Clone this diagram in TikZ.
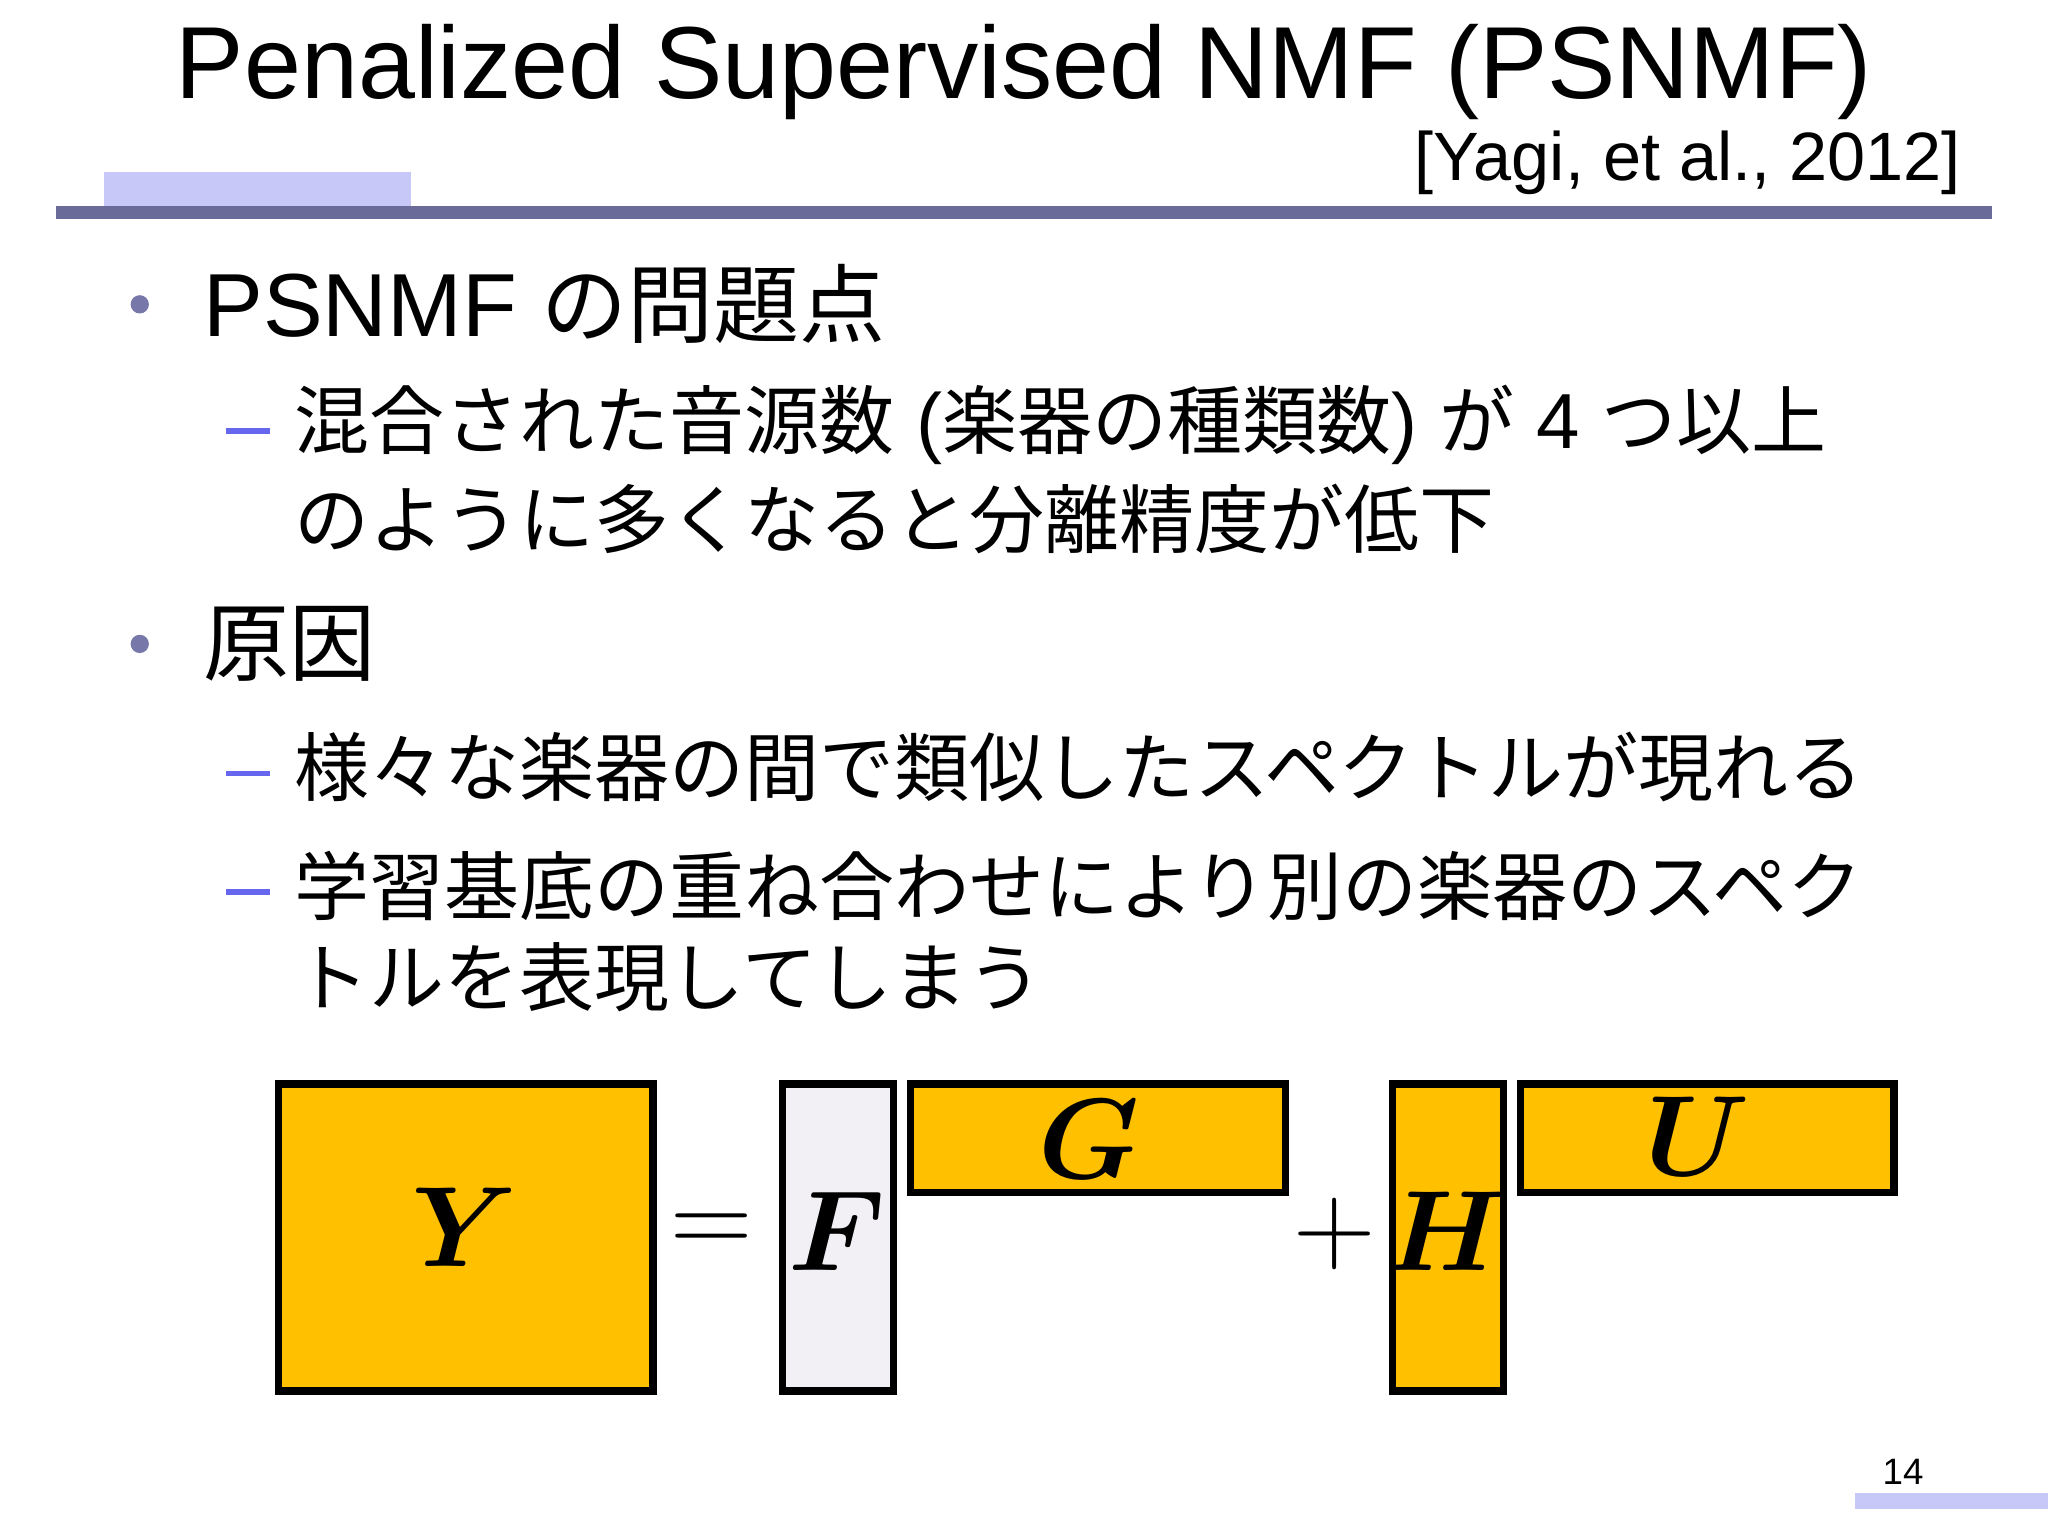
\documentclass[tikz,border=0pt]{standalone}
\usepackage{amsmath,bm}
\usepackage{fontspec}
\setmainfont{Liberation Sans}
\newfontfamily\jp[Scale=0.96]{Noto Sans CJK JP}
\newcommand{\J}[1]{{\jp #1}}
\definecolor{gold}{HTML}{FFC000}
\definecolor{pale}{HTML}{F2F0F4}
\definecolor{rulec}{HTML}{6B6B9A}
\definecolor{lightbar}{HTML}{C8C8F8}
\definecolor{dashc}{HTML}{6666EE}
\definecolor{bulc}{HTML}{7777AA}
\tikzset{mat/.style={draw=black,line width=1.6pt},
 l1/.style={anchor=west,inner sep=0pt,font=\fontsize{19.5}{23}\selectfont},
 l2/.style={anchor=west,inner sep=0pt,font=\fontsize{17}{21}\selectfont},
 ml/.style={font=\fontsize{24}{28}\selectfont}}
\begin{document}
\begin{tikzpicture}[x=0.01cm,y=-0.01cm]
\useasboundingbox (0,0) rectangle (1568,1176);
\node (title) at (784,55) {\fontsize{22.3}{26}\selectfont Penalized Supervised NMF (PSNMF)};
\node[anchor=east,inner sep=0pt] (cite) at (1502,125) {\fontsize{14.9}{18}\selectfont [Yagi, et al., 2012]};
\fill[lightbar] (80,132) rectangle (315,158);
\fill[rulec] (43,158) rectangle (1525,168);
\fill[bulc] (107,233) circle (7);
\node[l1] (b1) at (155,233) {PSNMF \J{の問題点}};
\fill[dashc] (173,328) rectangle (207,332);
\node[l2] (s1) at (225,325) {\J{混合された音源数} (\J{楽器の種類数}) \J{が} 4 \J{つ以上}};
\node[l2] (s1b) at (225,397) {\J{のように多くなると分離精度が低下}};
\fill[bulc] (107,493) circle (7);
\node[l1] (b2) at (155,493) {\J{原因}};
\fill[dashc] (173,590) rectangle (207,594);
\node[l2] (s2) at (225,587) {\J{様々な楽器の間で類似したスペクトルが現れる}};
\fill[dashc] (173,681) rectangle (207,685);
\node[l2] (s3) at (225,678) {\J{学習基底の重ね合わせにより別の楽器のスペク}};
\node[l2] (s3b) at (225,748) {\J{トルを表現してしまう}};
\draw[mat,fill=gold] (213,830) rectangle (500,1065);
\node[ml] (Y) at (356,940) {$\bm{Y}$};
\node[ml] (eq) at (545,945) {$=$};
\draw[mat,fill=pale] (599,830) rectangle (684,1065);
\node[ml] (F) at (641,943) {$\bm{F}$};
\draw[mat,fill=gold] (697,830) rectangle (984,913);
\node[ml] (G) at (834,872) {$\bm{G}$};
\node[ml] (pl) at (1022,945) {$+$};
\draw[mat,fill=gold] (1066,830) rectangle (1151,1065);
\node[ml] (H) at (1107,943) {$\bm{H}$};
\draw[mat,fill=gold] (1164,830) rectangle (1450,913);
\node[ml] (U) at (1300,870) {$\bm{U}$};
\node (pg) at (1457,1127) {\fontsize{8}{10}\selectfont 14};
\fill[lightbar] (1420,1143) rectangle (1568,1155);
\end{tikzpicture}
\end{document}
